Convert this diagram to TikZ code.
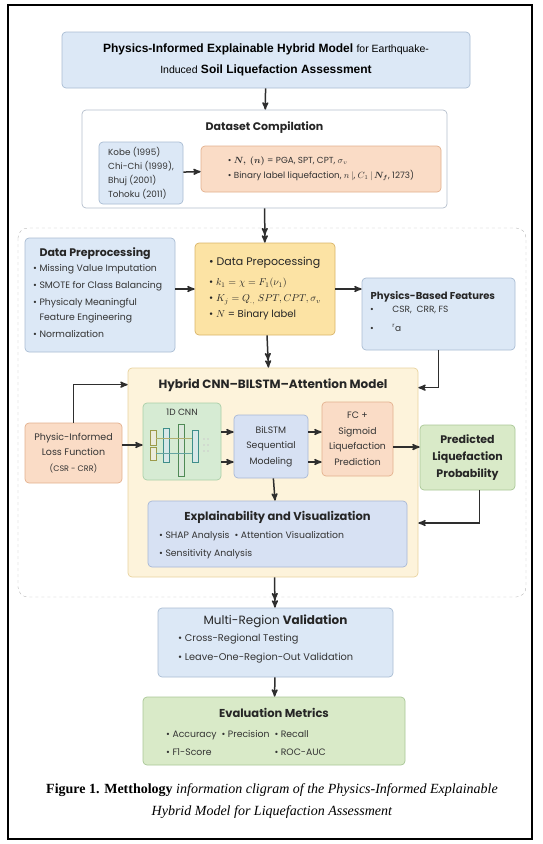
\documentclass[tikz,border=0pt]{standalone}
\usepackage{amsmath}
\usepackage{bm}
\usepackage{fontspec}
\setmainfont{Poppins}
\newfontfamily\headfont{Liberation Sans}
\newfontfamily\capfont{Liberation Serif}
\usepackage{tikz}
\usetikzlibrary{arrows,calc,positioning}
\definecolor{pilcol}{HTML}{2E2E2E}
\definecolor{blaaF}{HTML}{DCE8F6}
\definecolor{blaaK}{HTML}{A9BCD3}
\definecolor{orangeF}{HTML}{FADCC6}
\definecolor{orangeK}{HTML}{E3B18E}
\definecolor{gulF}{HTML}{FCE3A4}
\definecolor{gulK}{HTML}{D9B468}
\definecolor{cremeF}{HTML}{FDF3DB}
\definecolor{cremeK}{HTML}{E9D39E}
\definecolor{groenF}{HTML}{D6EBD3}
\definecolor{groenK}{HTML}{AACFA8}
\definecolor{lgroenF}{HTML}{D9EAC8}
\definecolor{lgroenK}{HTML}{A9C796}
\definecolor{lblaaF}{HTML}{D7E1F3}
\definecolor{lblaaK}{HTML}{A7B7D6}
\definecolor{graaK}{HTML}{B4BFCC}
\definecolor{mapA}{HTML}{9C9A4A}
\definecolor{mapB}{HTML}{3E8E8A}
\definecolor{mapC}{HTML}{4F8A55}
\newcommand{\bul}{\textbullet\ }
\tikzset{
    >=stealth',
    boks/.style={
           rectangle, rounded corners=4pt,
           line width=0.7pt,
           inner sep=0pt},
    pil/.style={
           ->, line width=1.5pt, draw=pilcol},
    dpil/.style={
           ->>, line width=1.5pt, draw=pilcol},
    hoved/.style={
           font=\bfseries\fontsize{11}{13}\selectfont, text=black!85},
    liste/.style={
           align=left, inner sep=0pt, text=black!80,
           font=\fontsize{9.3}{17}\selectfont}
}
\begin{document}
\begin{tikzpicture}[x=1pt,y=-1pt]
    \useasboundingbox (0,0) rectangle (542,844);
    \draw[line width=1.8pt] (8,5) rectangle (532,839);
    \draw[gray!55, dash pattern=on 3pt off 3pt, rounded corners=10pt] (18,228) rectangle (526,597);

    % top part
    \node[boks, fill=blaaF, draw=blaaK, minimum width=408, minimum height=56, align=center,
          font=\headfont\fontsize{12}{21}\selectfont] (title) at (266,60)
          {{\bfseries Physics-Informed Explainable Hybrid Model} {\fontsize{10.5}{21}\selectfont for Earthquake-}\\
           {\fontsize{10.5}{21}\selectfont Induced} {\bfseries Soil Liquefaction Assessment}};
    \node[boks, fill=white, draw=graaK, minimum width=365, minimum height=98] (data) at (264.5,159) {};
    \node[hoved, below=9pt of data.north] (datahead) {Dataset Compilation};
    \node[boks, fill=blaaF, draw=blaaK, minimum width=84, minimum height=62, align=left,
          font=\fontsize{8.8}{14}\selectfont, text=black!80] (events) at (141,173)
          {Kobe (1995)\\Chi-Chi (1999),\\Bhuj (2001)\\Tohoku (2011)};
    \node[boks, fill=orangeF, draw=orangeK, minimum width=240, minimum height=46, align=left,
          font=\fontsize{8.8}{15}\selectfont, text=black!80] (inputs) at (321,169)
          {\bul $\boldsymbol{N,\ (n)}$ = PGA, SPT, CPT, $\sigma_v$\\
           \bul Binary label liquefaction, $n\,|$, $C_1\,|\,\boldsymbol{N_f}$, 1273)};

    % preprocessing row
    \node[boks, fill=blaaF, draw=blaaK, minimum width=150, minimum height=114] (prep) at (100,295) {};
    \node[hoved, anchor=north west] (prephead) at (36,244) {Data Preprocessing};
    \node[liste, anchor=north west] (preplist) at (33,264)
          {\bul Missing Value Imputation\\
           \bul SMOTE for Class Balancing\\
           \bul Physicaly Meaningful\\[-2pt]
           \phantom{\bul}Feature Engineering\\
           \bul Normalization};
    \node[boks, fill=gulF, draw=gulK, minimum width=140, minimum height=92, align=left,
          font=\fontsize{10}{16}\selectfont, text=black!85] (gul) at (265,289)
          {{\fontsize{11}{16}\selectfont\bul Data Prepocessing}\\[4pt]
           \bul $k_1 = \chi = F_1(\nu_1)$\\
           \bul $K_j = Q_{.,}\ SPT, CPT, \sigma_v$\\
           \bul $N$ = Binary label};
    \node[boks, fill=blaaF, draw=blaaK, minimum width=153, minimum height=72] (phys) at (438.5,314) {};
    \node[hoved, font=\bfseries\fontsize{10}{12}\selectfont, anchor=north west] (physhead) at (367,288) {Physics-Based Features};
    \node[liste, anchor=north west, font=\fontsize{9}{19}\selectfont] (physlist) at (370,306)
          {\bul\hspace{16pt}CSR,\ \ CRR, FS\\
           \bul\hspace{16pt}\textsuperscript{r}a};

    % hybrid model
    \node[boks, fill=cremeF, draw=cremeK, minimum width=290, minimum height=209] (hybrid) at (273,472.5) {};
    \node[hoved, font=\bfseries\fontsize{12}{14}\selectfont, below=8pt of hybrid.north] (hybridhead) {Hybrid CNN--BILSTM--Attention Model};
    \node[boks, fill=orangeF, draw=orangeK, minimum width=97, minimum height=60, align=center,
          font=\fontsize{9.5}{15.5}\selectfont, text=black!80] (loss) at (73.5,453)
          {Physic-Informed\\Loss Function\\{\fontsize{8}{15.5}\selectfont(CSR - CRR)}};
    \node[boks, fill=groenF, draw=groenK, minimum width=78, minimum height=77] (cnn) at (182,441.5) {};
    \node[below=6pt of cnn.north, inner sep=0pt, text=black!80, font=\fontsize{9}{10}\selectfont] (cnnhead) {1D CNN};
    \node[boks, fill=lblaaF, draw=lblaaK, minimum width=74, minimum height=63, align=center,
          font=\fontsize{9.3}{15.5}\selectfont, text=black!80] (lstm) at (271,446.5)
          {BiLSTM\\Sequential\\Modeling};
    \node[boks, fill=orangeF, draw=orangeK, minimum width=71, minimum height=74, align=center,
          font=\fontsize{9.3}{15.5}\selectfont, text=black!80] (fc) at (357.5,439)
          {FC +\\Sigmoid\\Liquefaction\\Prediction};
    \node[boks, fill=lgroenF, draw=lgroenK, minimum width=95, minimum height=65, align=center,
          font=\bfseries\fontsize{11}{17}\selectfont, text=black!85] (pred) at (467.5,457.5)
          {Predicted\\Liquefaction\\Probability};
    \node[boks, fill=lblaaF, draw=lblaaK, minimum width=259, minimum height=66] (explain) at (277.5,534) {};
    \node[hoved, font=\bfseries\fontsize{11.5}{13}\selectfont, below=7pt of explain.north] (explainhead) {Explainability and Visualization};
    \node[liste, anchor=north west, font=\fontsize{9.3}{18}\selectfont] (explainlist) at (159,531)
          {\bul SHAP Analysis\ \ \bul Attention Visualization\\
           \bul Sensitivity Analysis};

    % the small feature maps
    \foreach \x/\t/\b/\c in {153/430/445/mapA, 153/447/460/mapA, 166/428/462/mapB,
                             181/424/476/mapC, 195/430/462/mapB} {
        \draw[\c, fill=\c!20, line width=0.6pt] (\x-3,\t) rectangle (\x+3,\b);
    }
    \draw[mapA!80, line width=0.5pt] (156,438) -- (192,438);
    \draw[mapB!80, line width=0.5pt] (156,453) -- (192,453);
    \foreach \y in {439,445,451} {
        \fill[gray!40] (204,\y) circle (0.8) (208,\y) circle (0.8);
    }

    % validation part
    \node[boks, fill=blaaF, draw=blaaK, minimum width=235, minimum height=69] (multi) at (275.5,642.5) {};
    \node[below=7pt of multi.north, inner sep=0pt, text=black!85, font=\fontsize{12}{14}\selectfont] (multihead)
          {Multi-Region {\bfseries Validation}};
    \node[liste, anchor=north west, font=\fontsize{9.8}{19}\selectfont] (multilist) at (178,634)
          {\bul Cross-Regional Testing\\
           \bul Leave-One-Region-Out Validation};
    \node[boks, fill=lgroenF, draw=lgroenK, minimum width=262, minimum height=68] (eval) at (274,731) {};
    \node[hoved, font=\bfseries\fontsize{11.5}{13}\selectfont, below=8pt of eval.north] (evalhead) {Evaluation Metrics};
    \node[liste, anchor=north west, font=\fontsize{9.3}{18}\selectfont] (evallist) at (166,725)
          {\begin{tabular}{@{}l@{\ \ }l@{\ \ }l@{}}
           \bul Accuracy & \bul Precision & \bul Recall\\
           \bul F1-Score &                & \bul ROC-AUC
           \end{tabular}};

    \node[align=center, font=\capfont\fontsize{14}{22}\selectfont] (caption) at (272,801)
          {{\bfseries Figure 1. Metthology} \textit{information cligram of the Physics-Informed Explainable}\\
           \textit{Hybrid Model for Liquefaction Assessment}};

    % connectors
    \coordinate (ra) at (0,432);
    \coordinate (rb) at (0,462);
    \coordinate (rc) at (0,447);
    \coordinate (rd) at (0,523);
    \coordinate (re) at (0,445);
    \draw[pil] (title) -- (data);
    \draw[pil] (events) -- (inputs);
    \draw[dpil] (data) -- (gul);
    \draw[pil] (prep.east |- gul) -- (gul);
    \draw[pil] (gul) -- (gul -| phys.west);
    \draw[dpil] (gul) -- (hybrid);
    \draw[pil] (phys.south) |- ([yshift=-20pt]hybrid.north east);
    \draw[pil] (loss.north) |- ([yshift=-17pt]hybrid.north west);
    \draw[pil] (loss.east |- re) -- (cnn.west |- re);
    \draw[pil] (cnn.east |- ra) -- (lstm.west |- ra);
    \draw[pil] (cnn.east |- rb) -- (lstm.west |- rb);
    \draw[pil] (lstm.east |- ra) -- (fc.west |- ra);
    \draw[pil] (lstm.east |- rb) -- (fc.west |- rb);
    \draw[pil] (fc.east |- rc) -- (pred.west |- rc);
    \draw[pil] (lstm) -- (explain);
    \draw[pil] ([xshift=12pt]pred.south) |- (hybrid.east |- rd);
    \draw[dpil] (hybrid) -- (multi);
    \draw[pil] (multi) -- (eval);
\end{tikzpicture}
\end{document}
